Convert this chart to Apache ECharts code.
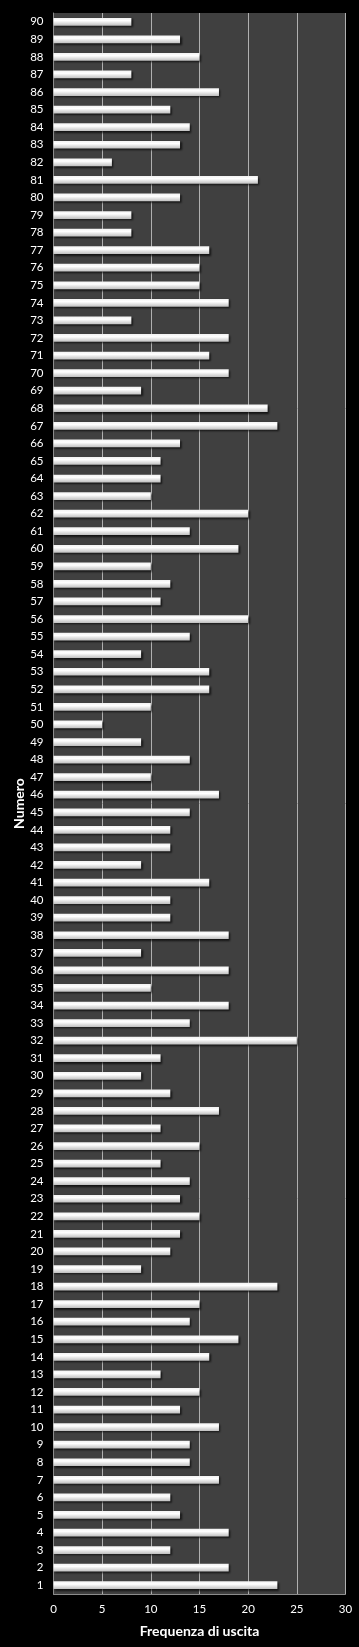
<!DOCTYPE html>
<html lang="it">
<head>
    <meta charset="utf-8"/>
    <script src="https://cdn.jsdelivr.net/npm/echarts@6/dist/echarts.min.js"></script>
</head>
<body style="margin: 0; background: #000;">
<div id="container" style="width: 359px; height: 1647px;"></div>
<script type="text/javascript">
    // numeri 1..90 (dal basso verso l'alto)
    var numeri = [];
    for (var i = 1; i <= 90; i++) numeri.push(String(i));

    // frequenza di uscita, numero 1 -> 90
    var frequenze = [
        23, 18, 12, 18, 13, 12, 17, 14, 14, 17,
        13, 15, 11, 16, 19, 14, 15, 23, 9, 12,
        13, 15, 13, 14, 11, 15, 11, 17, 12, 9,
        11, 25, 14, 18, 10, 18, 9, 18, 12, 12,
        16, 9, 12, 12, 14, 17, 10, 14, 9, 5,
        10, 16, 16, 9, 14, 20, 11, 12, 10, 19,
        14, 20, 10, 11, 11, 13, 23, 22, 9, 18,
        16, 18, 8, 18, 15, 15, 16, 8, 8, 13,
        21, 6, 13, 14, 12, 17, 8, 15, 13, 8
    ];

    var xTicks = [0, 5, 10, 15, 20, 25, 30];

    var myChart = echarts.init(document.getElementById('container'));

    var option = {
        backgroundColor: '#000',
        animation: false,
        textStyle: { fontFamily: 'Lato' },
        grid: {
            left: 53.5,
            right: 13.5,
            top: 13,
            bottom: 53,
            show: true,
            backgroundColor: '#404040',
            borderWidth: 0
        },
        xAxis: {
            type: 'value',
            min: xTicks[0],
            max: xTicks[xTicks.length - 1],
            interval: 5,
            name: 'Frequenza di uscita',
            nameLocation: 'middle',
            nameGap: 30,
            nameMoveOverlap: false,
            nameTextStyle: { color: '#fff', fontSize: 14, fontWeight: 'bold', fontFamily: 'Lato' },
            axisLine: { show: true, lineStyle: { color: '#8c8c8c', width: 1 } },
            axisTick: { show: false },
            axisLabel: { color: '#fff', fontSize: 11.5, margin: 9 },
            splitLine: { show: true, lineStyle: { color: '#b0b0b0', width: 1 } }
        },
        yAxis: {
            type: 'category',
            data: numeri,
            name: 'Numero',
            nameLocation: 'middle',
            nameGap: 27,
            nameMoveOverlap: false,
            nameRotate: 90,
            nameTextStyle: { color: '#fff', fontSize: 14, fontWeight: 'bold', fontFamily: 'Lato' },
            axisLine: { show: true, lineStyle: { color: '#8c8c8c', width: 1 } },
            axisTick: { show: false },
            axisLabel: { color: '#fff', fontSize: 11.5, margin: 10, interval: 0 },
            splitLine: { show: false }
        },
        series: [
            {
                type: 'bar',
                data: frequenze,
                barWidth: '44%',
                itemStyle: {
                    color: new echarts.graphic.LinearGradient(0, 0, 0, 1, [
                        { offset: 0, color: '#f2f2f2' },
                        { offset: 0.35, color: '#ffffff' },
                        { offset: 1, color: '#bfbfbf' }
                    ]),
                    shadowColor: 'rgba(0,0,0,0.7)',
                    shadowBlur: 2,
                    shadowOffsetX: 1.5,
                    shadowOffsetY: 1.5
                }
            }
        ]
    };

    myChart.setOption(option);
</script>
</body>
</html>
